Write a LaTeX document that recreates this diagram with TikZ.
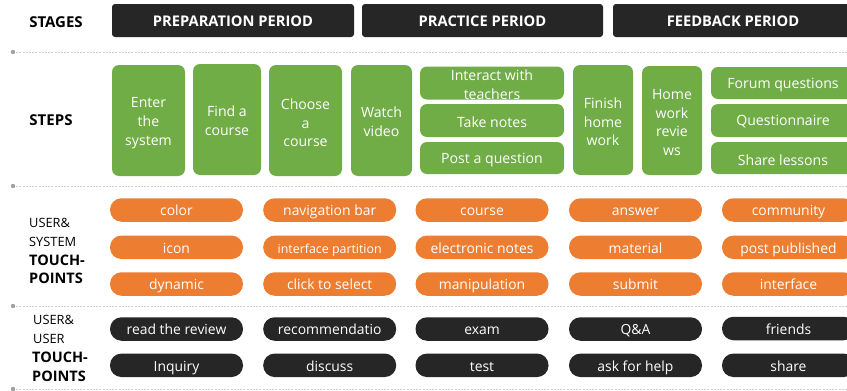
\documentclass[tikz,border=0pt]{standalone}
\usepackage{fontspec}
\setmainfont{Open Sans}
\begin{document}
\begin{tikzpicture}[x=1pt,y=-1pt,
  stagebox/.style={fill=stagedark, rounded corners=3pt, text=white, font=\fontsize{14.7}{16}\selectfont\bfseries, inner sep=0pt, text height=12.5pt, text depth=0pt},
  stepbox/.style={fill=stepgreen, rounded corners=7pt, inner sep=0pt},
  steptext/.style={text=white, font=\fontsize{14.1}{18.7}\selectfont, align=center, inner sep=0pt},
  pill/.style={rounded corners=11.5pt, text=white, font=\fontsize{13.9}{15}\selectfont, inner sep=0pt, minimum width=133pt, minimum height=23.5pt, text height=12pt, text depth=0.5pt},
  syspill/.style={pill, fill=pillorange},
  userpill/.style={pill, fill=stagedark},
  rowlabel/.style={font=\fontsize{15}{17}\selectfont\bfseries, inner sep=0pt},
  sideline/.style={font=\fontsize{12.8}{15}\selectfont, inner sep=0pt, anchor=base west},
  sidebold/.style={font=\fontsize{14.5}{17}\selectfont\bfseries, inner sep=0pt, anchor=base west},
  sepline/.style={draw=sepgray, line width=0.8pt, dash pattern=on 2pt off 1.2pt},
  sepdot/.style={fill=dotgray}
]
\definecolor{stagedark}{HTML}{262626}
\definecolor{stepgreen}{HTML}{70AD47}
\definecolor{pillorange}{HTML}{ED7D31}
\definecolor{sepgray}{HTML}{CFCFCF}
\definecolor{dotgray}{HTML}{A0A0A0}

\useasboundingbox (0,0) rectangle (847,391);
\clip (0,0) rectangle (847,391);

% row titles
\node[rowlabel] (lstages) at (56,22) {STAGES};
\node[rowlabel] (lsteps) at (51,120.5) {STEPS};
\node[sideline] (lsys1) at (29,227) {USER\&};
\node[sideline] (lsys2) at (29,246) {SYSTEM};
\node[sidebold] (lsys3) at (29,265) {TOUCH-};
\node[sidebold] (lsys4) at (29,283.5) {POINTS};
\node[sideline] (lusr1) at (33,324.5) {USER\&};
\node[sideline] (lusr2) at (33,343) {USER};
\node[sidebold] (lusr3) at (32,362.5) {TOUCH-};
\node[sidebold] (lusr4) at (32,381) {POINTS};

% separators
\foreach \yy in {52,186,306,389} {
  \draw[sepline] (13,\yy) -- (847,\yy);
  \fill[sepdot] (13,\yy) circle (2.2);
}

% stages
\node[stagebox, minimum width=242pt, minimum height=33pt] (prep) at (233,20.5) {PREPARATION PERIOD};
\node[stagebox, minimum width=241pt, minimum height=33pt] (prac) at (482.5,20.5) {PRACTICE PERIOD};
\node[stagebox, minimum width=240pt, minimum height=33pt] (feed) at (733,20.5) {FEEDBACK PERIOD};

% steps: boxes
\node[stepbox, minimum width=73pt, minimum height=111pt] (enter) at (148.5,120.5) {};
\node[stepbox, minimum width=68pt, minimum height=111pt] (find) at (227,119.5) {};
\node[stepbox, minimum width=73pt, minimum height=111pt] (choose) at (305.5,120.5) {};
\node[stepbox, minimum width=61pt, minimum height=111pt] (watch) at (381.5,120.5) {};
\node[stepbox, minimum width=144pt, minimum height=33pt] (interact) at (492,83) {};
\node[stepbox, minimum width=144pt, minimum height=33pt] (notes) at (492,120.5) {};
\node[stepbox, minimum width=144pt, minimum height=32pt] (post) at (492,158) {};
\node[stepbox, minimum width=60pt, minimum height=110pt] (finish) at (603,120) {};
\node[stepbox, minimum width=60pt, minimum height=109pt] (review) at (672,120.5) {};
\node[stepbox, minimum width=144pt, minimum height=32pt] (forum) at (783,83) {};
\node[stepbox, minimum width=144pt, minimum height=33pt] (quest) at (783,120.5) {};
\node[stepbox, minimum width=144pt, minimum height=32pt] (share) at (783,158) {};

% steps: captions
\node[steptext] (enterT) at ([yshift=-2.5pt]enter.center) {Enter\\the\\system};
\node[steptext] (findT) at ([yshift=-1.5pt]find.center) {Find a\\course};
\node[steptext] (chooseT) at ([yshift=-2.5pt]choose.center) {Choose\\a\\course};
\node[steptext] (watchT) at ([yshift=-1.5pt]watch.center) {Watch\\video};
\node[steptext] (interactT) at ([yshift=-2pt]interact.center) {Interact with\\teachers};
\node[steptext] (notesT) at ([yshift=-1.5pt]notes.center) {Take notes};
\node[steptext] (postT) at ([yshift=-2pt]post.center) {Post a question};
\node[steptext] (finishT) at ([yshift=-2pt]finish.center) {Finish\\home\\work};
\node[steptext] (reviewT) at ([yshift=-2pt]review.center) {Home\\work\\revie\\ws};
\node[steptext] (forumT) at ([yshift=-2pt]forum.center) {Forum questions};
\node[steptext] (questT) at ([yshift=-1.5pt]quest.center) {Questionnaire};
\node[steptext] (shareT) at ([yshift=-2pt]share.center) {Share lessons};

% user & system touch-points
\node[syspill] (t11) at (176.5,210) {color};
\node[syspill] (t12) at (176.5,247.3) {icon};
\node[syspill] (t13) at (176.5,284) {dynamic};
\node[syspill] (t21) at (329.7,210) {navigation bar};
\node[syspill, font=\fontsize{12.4}{14}\selectfont] (t22) at (329.7,247.3) {interface partition};
\node[syspill] (t23) at (329.7,284) {click to select};
\node[syspill] (t31) at (482,210) {course};
\node[syspill] (t32) at (482,247.3) {electronic notes};
\node[syspill] (t33) at (482,284) {manipulation};
\node[syspill] (t41) at (635.5,210) {answer};
\node[syspill] (t42) at (635.5,247.3) {material};
\node[syspill] (t43) at (635.5,284) {submit};
\node[syspill] (t51) at (788.5,210) {community};
\node[syspill] (t52) at (788.5,247.3) {post published};
\node[syspill] (t53) at (788.5,284) {interface};

% user & user touch-points
\node[userpill] (u11) at (176.5,329) {read the review};
\node[userpill] (u12) at (176.5,365.3) {Inquiry};
\node[userpill] (u21) at (329.7,329) {recommendatio};
\node[userpill] (u22) at (329.7,365.3) {discuss};
\node[userpill] (u31) at (482,329) {exam};
\node[userpill] (u32) at (482,365.3) {test};
\node[userpill] (u41) at (635.5,329) {Q\&A};
\node[userpill] (u42) at (635.5,365.3) {ask for help};
\node[userpill] (u51) at (788.5,328.5) {friends};
\node[userpill] (u52) at (788.5,365.3) {share};
\end{tikzpicture}
\end{document}
